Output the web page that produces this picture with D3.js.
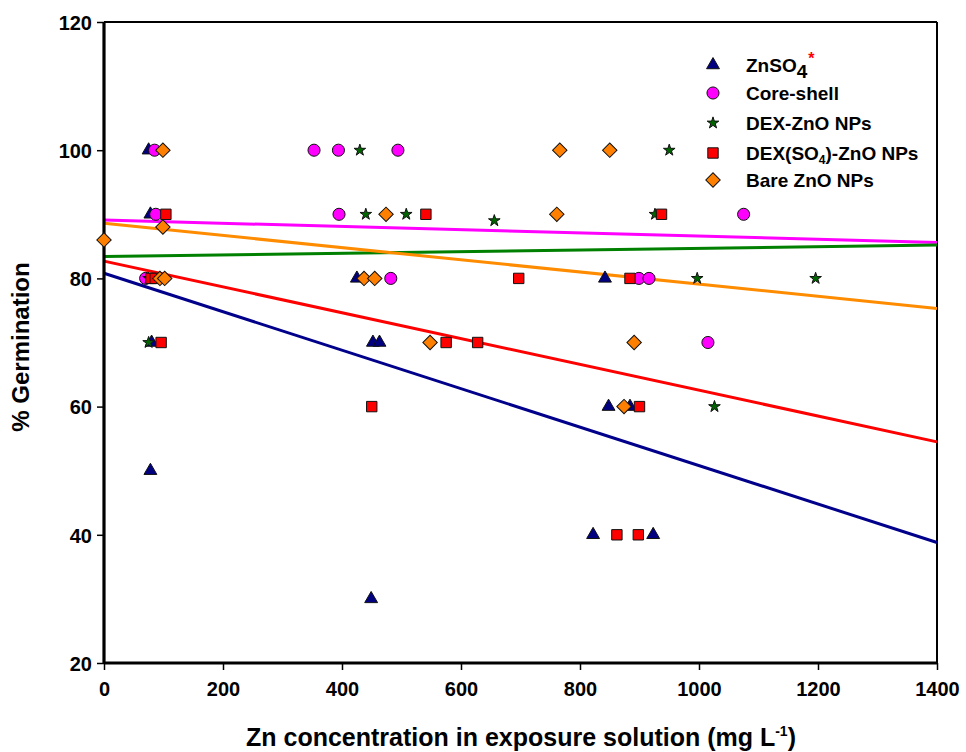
<!DOCTYPE html>
<html>
<head>
<meta charset="utf-8">
<script src="https://cdn.jsdelivr.net/npm/d3@7"></script>
<style>
  html, body { margin: 0; padding: 0; background: #fff; }
  svg { display: block; font-family: Arial, "Liberation Sans", sans-serif; font-weight: bold; }
</style>
</head>
<body>
<svg id="chart" width="966" height="752"></svg>
<script>
// Germination (%) against Zn concentration for five Zn sources
const seriesNames = ["ZnSO4", "Core-shell", "DEX-ZnO NPs", "DEX(SO4)-ZnO NPs", "Bare ZnO NPs"];

const znso4X = [75, 78, 80, 78, 425, 452, 463, 449, 842, 848, 884, 822, 923];
const znso4Y = [100, 90, 70, 50, 80, 70, 70, 30, 80, 60, 60, 40, 40];

const coreShellX = [85, 87, 70, 353, 394, 494, 395, 482, 899, 916, 1075, 1015];
const coreShellY = [100, 90, 80, 100, 100, 100, 90, 80, 80, 80, 90, 70];

const dexZnoX = [75, 75, 430, 440, 508, 656, 926, 950, 997, 1026, 1196];
const dexZnoY = [80, 70, 100, 90, 90, 89, 90, 100, 80, 60, 80];

const dexSo4X = [79, 86, 104, 96, 541, 697, 450, 575, 628, 937, 884, 900, 862, 898];
const dexSo4Y = [80, 80, 90, 70, 90, 80, 60, 70, 70, 90, 80, 60, 40, 40];

const bareX = [0, 99, 99, 94, 102, 437, 455, 474, 548, 761, 766, 850, 874, 891];
const bareY = [86, 100, 88, 80, 80, 80, 80, 90, 70, 90, 100, 100, 60, 70];

// Linear fits: predicted germination at 0 and at 1400 mg/L
const fitAtStart = [80.8, 89.1, 83.4, 82.7, 88.6];
const fitAtEnd = [38.8, 85.6, 85.2, 54.5, 75.3];

const xTicks = [0, 200, 400, 600, 800, 1000, 1200, 1400];
const yTicks = [20, 40, 60, 80, 100, 120];

const lineColors = ["#00008B", "#FF00FF", "#008000", "#FF0000", "#FF8C00"];
const markerFills = ["#000080", "#FF00FF", "#006400", "#FF0000", "#FF8000"];

const svg = d3.select("#chart");
const plotLeft = 104, plotRight = 937, plotTop = 22, plotBottom = 663;

const x = d3.scaleLinear().domain([0, 1400]).range([plotLeft, plotRight]);
const y = d3.scaleLinear().domain([20, 120]).range([plotBottom, plotTop]);

const seriesData = [
  d3.zip(znso4X, znso4Y),
  d3.zip(coreShellX, coreShellY),
  d3.zip(dexZnoX, dexZnoY),
  d3.zip(dexSo4X, dexSo4Y),
  d3.zip(bareX, bareY)
];

const symbolDefs = [
  { type: d3.symbolTriangle, size: 72, rotate: 0 },
  { type: d3.symbolCircle, size: 115, rotate: 0 },
  { type: d3.symbolStar, size: 42, rotate: 0 },
  { type: d3.symbolSquare, size: 108, rotate: 0 },
  { type: d3.symbolSquare, size: 104, rotate: 45 }
];

// Frame (top and right)
svg.append("line").attr("x1", plotLeft).attr("x2", plotRight).attr("y1", plotTop).attr("y2", plotTop)
  .attr("stroke", "#000").attr("stroke-width", 2);
svg.append("line").attr("x1", plotRight).attr("x2", plotRight).attr("y1", plotTop).attr("y2", plotBottom)
  .attr("stroke", "#000").attr("stroke-width", 2);

// Fit lines
const fitGroup = svg.append("g");
seriesNames.forEach((name, i) => {
  fitGroup.append("line")
    .attr("x1", x(0)).attr("y1", y(fitAtStart[i]))
    .attr("x2", x(1400)).attr("y2", y(fitAtEnd[i]))
    .attr("stroke", lineColors[i])
    .attr("stroke-width", 3);
});

// Axes
const xAxis = svg.append("g")
  .attr("transform", `translate(0,${plotBottom})`)
  .call(d3.axisBottom(x).tickValues(xTicks).tickSize(7).tickPadding(12).tickFormat(d3.format("d")));
const yAxis = svg.append("g")
  .attr("transform", `translate(${plotLeft},0)`)
  .call(d3.axisLeft(y).tickValues(yTicks).tickSize(7).tickPadding(5).tickFormat(d3.format("d")));

[xAxis, yAxis].forEach(g => {
  g.select(".domain").attr("stroke", "#000").attr("stroke-width", 3.2);
  g.selectAll(".tick line").attr("stroke", "#000").attr("stroke-width", 1.5);
  g.selectAll(".tick text")
    .attr("fill", "#000")
    .style("font-family", "Arial, 'Liberation Sans', sans-serif")
    .style("font-weight", "bold")
    .style("font-size", "20px");
});
xAxis.select(".domain").attr("d", `M${plotLeft},0H${plotRight}`);
yAxis.select(".domain").attr("d", `M0,${plotTop}V${plotBottom}`);
yAxis.selectAll(".tick text").attr("dy", "0.36em");

// Points
const symbolGen = d3.symbol();
seriesData.forEach((pts, i) => {
  const def = symbolDefs[i];
  svg.append("g").selectAll("path")
    .data(pts)
    .join("path")
    .attr("d", symbolGen.type(def.type).size(def.size)())
    .attr("transform", d => `translate(${x(d[0])},${y(d[1])}) rotate(${def.rotate})`)
    .attr("fill", markerFills[i])
    .attr("stroke", "#111")
    .attr("stroke-width", 1);
});

// Legend
const legendY = [65, 93, 123, 153, 180];
const legend = svg.append("g");
seriesNames.forEach((name, i) => {
  const def = symbolDefs[i];
  legend.append("path")
    .attr("d", symbolGen.type(def.type).size(def.size)())
    .attr("transform", `translate(713,${legendY[i]}) rotate(${def.rotate})`)
    .attr("fill", markerFills[i])
    .attr("stroke", "#111")
    .attr("stroke-width", 1);
  const t = legend.append("text")
    .attr("x", 746).attr("y", legendY[i] + 7)
    .attr("fill", "#000")
    .style("font-size", "19px");
  if (i === 0) {
    t.append("tspan").text("ZnSO");
    t.append("tspan").text("4").attr("dy", 6).style("font-size", "19px");
    t.append("tspan").text("*").attr("dy", -14).attr("dx", 1).attr("fill", "#FF0000").style("font-size", "16px");
  } else if (i === 3) {
    t.append("tspan").text("DEX(SO");
    t.append("tspan").text("4").attr("dy", 4).style("font-size", "12px");
    t.append("tspan").text(")-ZnO NPs").attr("dy", -4);
  } else {
    t.text(name);
  }
});

// Axis titles
const xTitle = svg.append("text")
  .attr("x", 521).attr("y", 746)
  .attr("text-anchor", "middle")
  .attr("fill", "#000")
  .style("font-size", "25px");
xTitle.append("tspan").text("Zn concentration in exposure solution (mg L");
xTitle.append("tspan").text("-1").attr("dy", -10).style("font-size", "14px");
xTitle.append("tspan").text(")").attr("dy", 10);

svg.append("text")
  .attr("transform", "translate(29,347) rotate(-90)")
  .attr("text-anchor", "middle")
  .attr("fill", "#000")
  .style("font-size", "24px")
  .text("% Germination");
</script>
</body>
</html>
